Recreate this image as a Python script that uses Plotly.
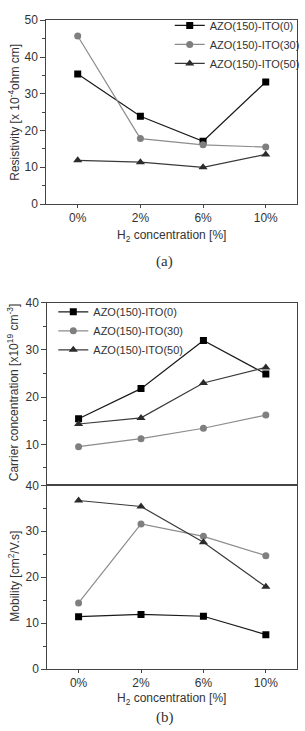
import plotly.graph_objects as go

W, H = 305, 731

categories = ["0%", "2%", "6%", "10%"]
series_names = ["AZO(150)-ITO(0)", "AZO(150)-ITO(30)", "AZO(150)-ITO(50)"]

resistivity_ito0 = [35.4, 23.9, 17.1, 33.2]
resistivity_ito30 = [45.7, 17.8, 16.1, 15.5]
resistivity_ito50 = [11.9, 11.4, 10.0, 13.5]

carrier_ito0 = [15.4, 21.8, 32.0, 24.9]
carrier_ito30 = [9.5, 11.2, 13.4, 16.2]
carrier_ito50 = [14.3, 15.6, 23.0, 26.3]

mobility_ito0 = [11.4, 11.9, 11.5, 7.5]
mobility_ito30 = [14.4, 31.6, 28.9, 24.7]
mobility_ito50 = [36.7, 35.4, 27.6, 17.9]

styles = [
    dict(symbol="square", color="#000000", line="#1a1a1a", size=7),
    dict(symbol="circle", color="#7f7f7f", line="#8c8c8c", size=7),
    dict(symbol="triangle-up", color="#2b2b2b", line="#3a3a3a", size=8),
]

FONT = "Liberation Sans, Arial, sans-serif"
TXT = "#333333"
AX = "#444444"

def px_y(p):
    return 1 - p / H

def px_x(p):
    return p / W

fig = go.Figure()

groups = [
    ([resistivity_ito0, resistivity_ito30, resistivity_ito50], "x", "y", "legend", True),
    ([carrier_ito0, carrier_ito30, carrier_ito50], "x2", "y2", "legend2", True),
    ([mobility_ito0, mobility_ito30, mobility_ito50], "x3", "y3", "legend2", False),
]

for data, xa, ya, lg, show in groups:
    for name, vals, st in zip(series_names, data, styles):
        fig.add_trace(go.Scatter(
            x=categories, y=vals, name=name, mode="lines+markers",
            xaxis=xa, yaxis=ya, legend=lg, showlegend=show,
            line=dict(color=st["line"], width=1.2),
            marker=dict(symbol=st["symbol"], color=st["color"], size=st["size"],
                        line=dict(width=0)),
        ))

axis_common = dict(showline=True, linecolor=AX, linewidth=1, mirror=True,
                   showgrid=False, zeroline=False,
                   tickfont=dict(family=FONT, size=12, color=TXT))

xdom_top = [px_x(47), px_x(301)]
xdom_bot = [px_x(48), px_x(301)]

fig.update_layout(
    width=W, height=H, margin=dict(l=0, r=0, t=0, b=0),
    paper_bgcolor="white", plot_bgcolor="white",
    font=dict(family=FONT, color=TXT),
    xaxis=dict(domain=xdom_top, anchor="y", type="category", range=[-0.5, 3.5],
               ticks="outside", ticklen=3, tickcolor=AX, **axis_common),
    yaxis=dict(domain=[px_y(200.9), px_y(13.5)], anchor="x", range=[0, 50],
               tickvals=[0, 10, 20, 30, 40, 50], ticks="outside", ticklen=5, tickcolor=AX,
               minor=dict(ticks="outside", ticklen=3, dtick=5, tickcolor=AX),
               **axis_common),
    xaxis2=dict(domain=xdom_bot, anchor="y2", type="category", range=[-0.5, 3.5],
                showticklabels=False, ticks="", matches="x3", **axis_common),
    yaxis2=dict(domain=[px_y(487.7), px_y(301.5)], anchor="x2", range=[1.3, 40],
                tickvals=[10, 20, 30, 40], ticks="outside", ticklen=5, tickcolor=AX,
                minor=dict(ticks="outside", ticklen=3, dtick=5, tickcolor=AX),
                **axis_common),
    xaxis3=dict(domain=xdom_bot, anchor="y3", type="category", range=[-0.5, 3.5],
                ticks="outside", ticklen=3, tickcolor=AX, **axis_common),
    yaxis3=dict(domain=[px_y(675), px_y(487.7)], anchor="x3", range=[0, 40],
                tickvals=[0, 10, 20, 30, 40], ticks="outside", ticklen=5, tickcolor=AX,
                minor=dict(ticks="outside", ticklen=3, dtick=5, tickcolor=AX),
                **axis_common),
    legend=dict(x=px_x(172), y=px_y(4), xanchor="left", yanchor="top",
                bgcolor="rgba(0,0,0,0)", font=dict(family=FONT, size=11, color=TXT),
                itemwidth=30, tracegroupgap=0, traceorder="normal"),
    legend2=dict(x=px_x(54), y=px_y(296), xanchor="left", yanchor="top",
                 bgcolor="rgba(0,0,0,0)", font=dict(family=FONT, size=11, color=TXT),
                 itemwidth=30, tracegroupgap=0, traceorder="normal"),
)

ann = [
    dict(text="H<sub>2</sub> concentration [%]", x=px_x(174), y=px_y(233), size=12, angle=0, fam=FONT),
    dict(text="H<sub>2</sub> concentration [%]", x=px_x(174), y=px_y(706), size=12, angle=0, fam=FONT),
    dict(text="Resistivity [x 10<sup>-4</sup>ohm cm]", x=px_x(14), y=px_y(107), size=12, angle=-90, fam=FONT),
    dict(text="Carrier concentration [x10<sup>19</sup> cm<sup>-3</sup>]", x=px_x(14), y=px_y(393), size=12, angle=-90, fam=FONT),
    dict(text="Mobility [cm<sup>2</sup>/V.s]", x=px_x(14), y=px_y(580), size=12, angle=-90, fam=FONT),
    dict(text="(a)", x=px_x(167), y=px_y(259), size=15, angle=0, fam="Liberation Serif, Times New Roman, serif"),
    dict(text="(b)", x=px_x(167), y=px_y(724), size=15, angle=0, fam="Liberation Serif, Times New Roman, serif"),
]
for a in ann:
    fig.add_annotation(text=a["text"], x=a["x"], y=a["y"], xref="paper", yref="paper",
                       xanchor="center", yanchor="middle", showarrow=False, textangle=a["angle"],
                       font=dict(family=a["fam"], size=a["size"], color=TXT))

fig.write_html("out.html")
